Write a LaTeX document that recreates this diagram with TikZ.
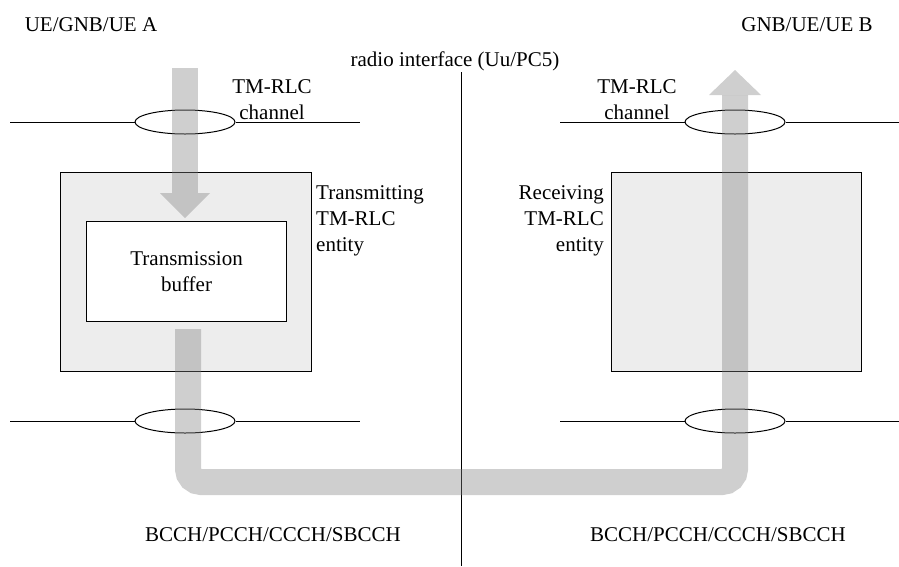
\documentclass[tikz,border=0pt]{standalone}
\usepackage{fontspec}
\setmainfont{Liberation Serif}
\usetikzlibrary{shapes.geometric}
\begin{document}
\begin{tikzpicture}[x=1pt,y=-1pt,
  lbl/.style={inner sep=0pt,font=\fontsize{21}{26}\selectfont},
  entitybox/.style={draw=black,line width=1.3pt,fill=black!7,anchor=north west,inner sep=0pt},
  bufbox/.style={draw=black,line width=1.1pt,fill=white,anchor=north west,inner sep=0pt,font=\fontsize{21}{26}\selectfont,align=center},
  chan/.style={ellipse,draw=black,line width=1pt,minimum width=100pt,minimum height=24pt,inner sep=0pt},
  chline/.style={draw=black,line width=1pt},
  flow/.style={draw=black!50,draw opacity=0.38,line width=26pt,rounded corners=13pt},
  flowhead/.style={fill=black!50,fill opacity=0.38,draw=none}
]
\useasboundingbox (0,0) rectangle (899,566);
% labels
\node[lbl] (ueA) at (91,25) {UE/GNB/UE A};
\node[lbl] (ueB) at (807,25) {GNB/UE/UE B};
\node[lbl] (radio) at (455,61) {radio interface (Uu/PC5)};
% interface line
\coordinate (ifTop) at (461,72);
\coordinate (ifBot) at (461,566);
\draw[line width=1pt] (ifTop) -- (ifBot);
% entity boxes
\node[entitybox,minimum width=251pt,minimum height=199pt] (tx) at (60,172) {};
\node[bufbox,minimum width=200pt,minimum height=100pt] (buf) at (86,221) {Transmission\\buffer};
\node[entitybox,minimum width=250pt,minimum height=199pt] (rx) at (611,172) {};
\node[lbl,anchor=west,align=left] (txl) at (316,221) {Transmitting\\TM-RLC\\entity};
\node[lbl,anchor=east,align=right] (rxl) at (604,221) {Receiving\\TM-RLC\\entity};
% channels
\node[chan] (c1) at (185,122) {};
\node[chan] (c2) at (735,122) {};
\node[chan] (c3) at (185,421) {};
\node[chan] (c4) at (735,421) {};
\coordinate (l1a) at (10,122); \coordinate (l1b) at (360,122);
\coordinate (l2a) at (560,122); \coordinate (l2b) at (899,122);
\coordinate (l3a) at (10,421); \coordinate (l3b) at (360,421);
\coordinate (l4a) at (560,421); \coordinate (l4b) at (899,421);
\draw[chline] (l1a) -- (c1.west); \draw[chline] (c1.east) -- (l1b);
\draw[chline] (l2a) -- (c2.west); \draw[chline] (c2.east) -- (l2b);
\draw[chline] (l3a) -- (c3.west); \draw[chline] (c3.east) -- (l3b);
\draw[chline] (l4a) -- (c4.west); \draw[chline] (c4.east) -- (l4b);
\node[lbl,align=center] (tm1) at (272,100) {TM-RLC\\channel};
\node[lbl,align=center] (tm2) at (637,100) {TM-RLC\\channel};
\node[lbl] (b1) at (273,535) {BCCH/PCCH/CCCH/SBCCH};
\node[lbl] (b2) at (718,535) {BCCH/PCCH/CCCH/SBCCH};
% flow arrows
\coordinate (inTop) at (185,68);
\coordinate (inHead) at (185,193);
\draw[flow] (inTop) -- (inHead);
\fill[flowhead] (160,193) -- (210,193) -- (185,218) -- cycle;
\coordinate (outStart) at (188,329);
\coordinate (cornerL) at (188,482);
\coordinate (cornerR) at (735,482);
\coordinate (outEnd) at (735,95);
\draw[flow] (outStart) -- (cornerL) -- (cornerR) -- (outEnd);
\fill[flowhead] (709,95) -- (761,95) -- (735,70) -- cycle;
\end{tikzpicture}
\end{document}
